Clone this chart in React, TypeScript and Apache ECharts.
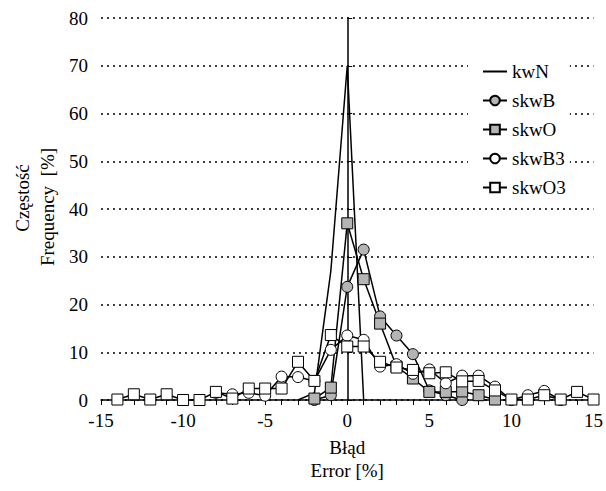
import React, { useEffect, useRef } from "react";
import * as echarts from "echarts";

const xTicks = [-15, -10, -5, 0, 5, 10, 15];
const yTicks = [0, 10, 20, 30, 40, 50, 60, 70, 80];

const kwnX = [-3, -2, -1, 0, 1];
const kwnY = [0, 1.5, 27, 70, 0];

const skwBX = [-2, -1, 0, 1, 2, 3, 4, 5, 6, 7];
const skwBY = [0, 1, 23.7, 31.5, 17.5, 13.5, 9.6, 2.0, 1.0, 0];

const skwOX = [-2, -1, 0, 1, 2, 3, 4, 5, 6, 7, 8, 9];
const skwOY = [0.3, 2.6, 37, 25.3, 16, 7, 4.5, 1.7, 1.7, 1.8, 1.0, 0.1];

const skwB3X = [-8, -7, -6, -5, -4, -3, -2, -1, 0, 1, 2, 3, 4, 5, 6, 7, 8, 9, 10, 11, 12, 13];
const skwB3Y = [1.5, 1.2, 1.5, 0.9, 4.9, 4.8, 4.0, 10.5, 13.5, 12.6, 7.0, 7.5, 5.5, 6.4, 3.5, 5.1, 5.1, 2.8, 0, 1.0, 1.9, 0];

const skwO3X = [-14, -13, -12, -11, -10, -9, -8, -7, -6, -5, -4, -3, -2, -1, 0, 1, 2, 3, 4, 5, 6, 7, 8, 9, 10, 11, 12, 13, 14, 15];
const skwO3Y = [0.1, 1.2, 0.1, 1.2, 0, 0, 1.7, 0.3, 2.4, 2.4, 2.4, 8.0, 4.0, 13.6, 11.2, 11.2, 8.0, 6.8, 6.3, 5.6, 5.8, 3.9, 4.0, 2.0, 0.1, 0.1, 1.0, 0.1, 1.7, 0.1];

const seriesNames = ["kwN", "skwB", "skwO", "skwB3", "skwO3"];
const yTitle1 = "Częstość";
const yTitle2 = "Frequency  [%]";
const xTitle = "Błąd\nError [%]";

const FONT = "'Liberation Serif', 'Times New Roman', serif";
const GRAY = "#b4b4b4";

function pairs(xs: number[], ys: number[]) {
  return xs.map((x, i) => [x, ys[i]]);
}

export default function App() {
  const ref = useRef<HTMLDivElement>(null);
  useEffect(() => {
    if (!ref.current) return;
    const chart = echarts.init(ref.current, undefined, { renderer: "svg" });
    const lineStyle = { color: "#000", width: 1.5 };
    const mk = (name: string, xs: number[], ys: number[], symbol: string, fill: string) => ({
      name,
      type: "line",
      data: pairs(xs, ys),
      symbol,
      symbolSize: 11,
      showSymbol: symbol !== "none",
      lineStyle,
      itemStyle: { color: fill, borderColor: "#000", borderWidth: 1 },
      emphasis: { disabled: true },
      z: 3,
    });
    chart.setOption({
      animation: false,
      backgroundColor: "#fff",
      textStyle: { fontFamily: FONT },
      grid: { left: 101, right: 7.6, top: 18, bottom: 91, containLabel: false },
      legend: {
        orient: "vertical",
        left: 468,
        top: 56,
        itemWidth: 24,
        itemHeight: 12,
        itemGap: 10,
        padding: [6, 4, 6, 14],
        backgroundColor: "#fff",
        data: seriesNames.map((n, i) => (i === 0 ? { name: n, itemStyle: { opacity: 0 } } : { name: n })),
        textStyle: { fontFamily: FONT, fontSize: 19, color: "#000" },
        z: 10,
      },
      xAxis: {
        type: "value",
        min: xTicks[0],
        max: xTicks[xTicks.length - 1],
        interval: 5,
        name: xTitle,
        nameLocation: "middle",
        nameGap: 36,
        nameTextStyle: { fontFamily: FONT, fontSize: 19, color: "#000", lineHeight: 23 },
        axisLine: { onZero: false, lineStyle: { color: "#000", width: 1.5 } },
        axisTick: { show: true, length: 5, lineStyle: { color: "#000", width: 1 } },
        minorTick: { show: true, splitNumber: 5, length: 5, lineStyle: { color: "#000", width: 1 } },
        axisLabel: { margin: 11, fontFamily: FONT, fontSize: 19, color: "#000" },
        splitLine: { show: false },
      },
      yAxis: [
        {
          type: "value",
          min: yTicks[0],
          max: yTicks[yTicks.length - 1],
          interval: 10,
          axisLine: { show: false, onZero: false },
          axisTick: { show: false },
          axisLabel: { margin: 13, fontFamily: FONT, fontSize: 19, color: "#000" },
          splitLine: { show: true, lineStyle: { color: "#000", width: 1.5, type: [2, 4] } },
        },
        {
          type: "value",
          min: yTicks[0],
          max: yTicks[yTicks.length - 1],
          interval: 10,
          axisLine: { show: true, onZero: true, lineStyle: { color: "#000", width: 1.5 } },
          axisTick: { show: true, length: 5, lineStyle: { color: "#000", width: 1 } },
          axisLabel: { show: false },
          splitLine: { show: false },
        },
      ],
      graphic: [
        {
          type: "text",
          x: 22,
          y: 198,
          rotation: Math.PI / 2,
          style: { text: yTitle1, font: `19px ${FONT}`, fill: "#000", align: "center", verticalAlign: "middle" },
        },
        {
          type: "text",
          x: 47,
          y: 207,
          rotation: Math.PI / 2,
          style: { text: yTitle2, font: `19px ${FONT}`, fill: "#000", align: "center", verticalAlign: "middle" },
        },
      ],
      series: [
        mk("kwN", kwnX, kwnY, "none", "#000"),
        mk("skwB", skwBX, skwBY, "circle", GRAY),
        mk("skwO", skwOX, skwOY, "rect", GRAY),
        mk("skwB3", skwB3X, skwB3Y, "circle", "#fff"),
        mk("skwO3", skwO3X, skwO3Y, "rect", "#fff"),
      ],
    });
    return () => chart.dispose();
  }, []);
  return <div ref={ref} style={{ position: "absolute", left: 0, top: 0, width: 606, height: 491 }} />;
}
